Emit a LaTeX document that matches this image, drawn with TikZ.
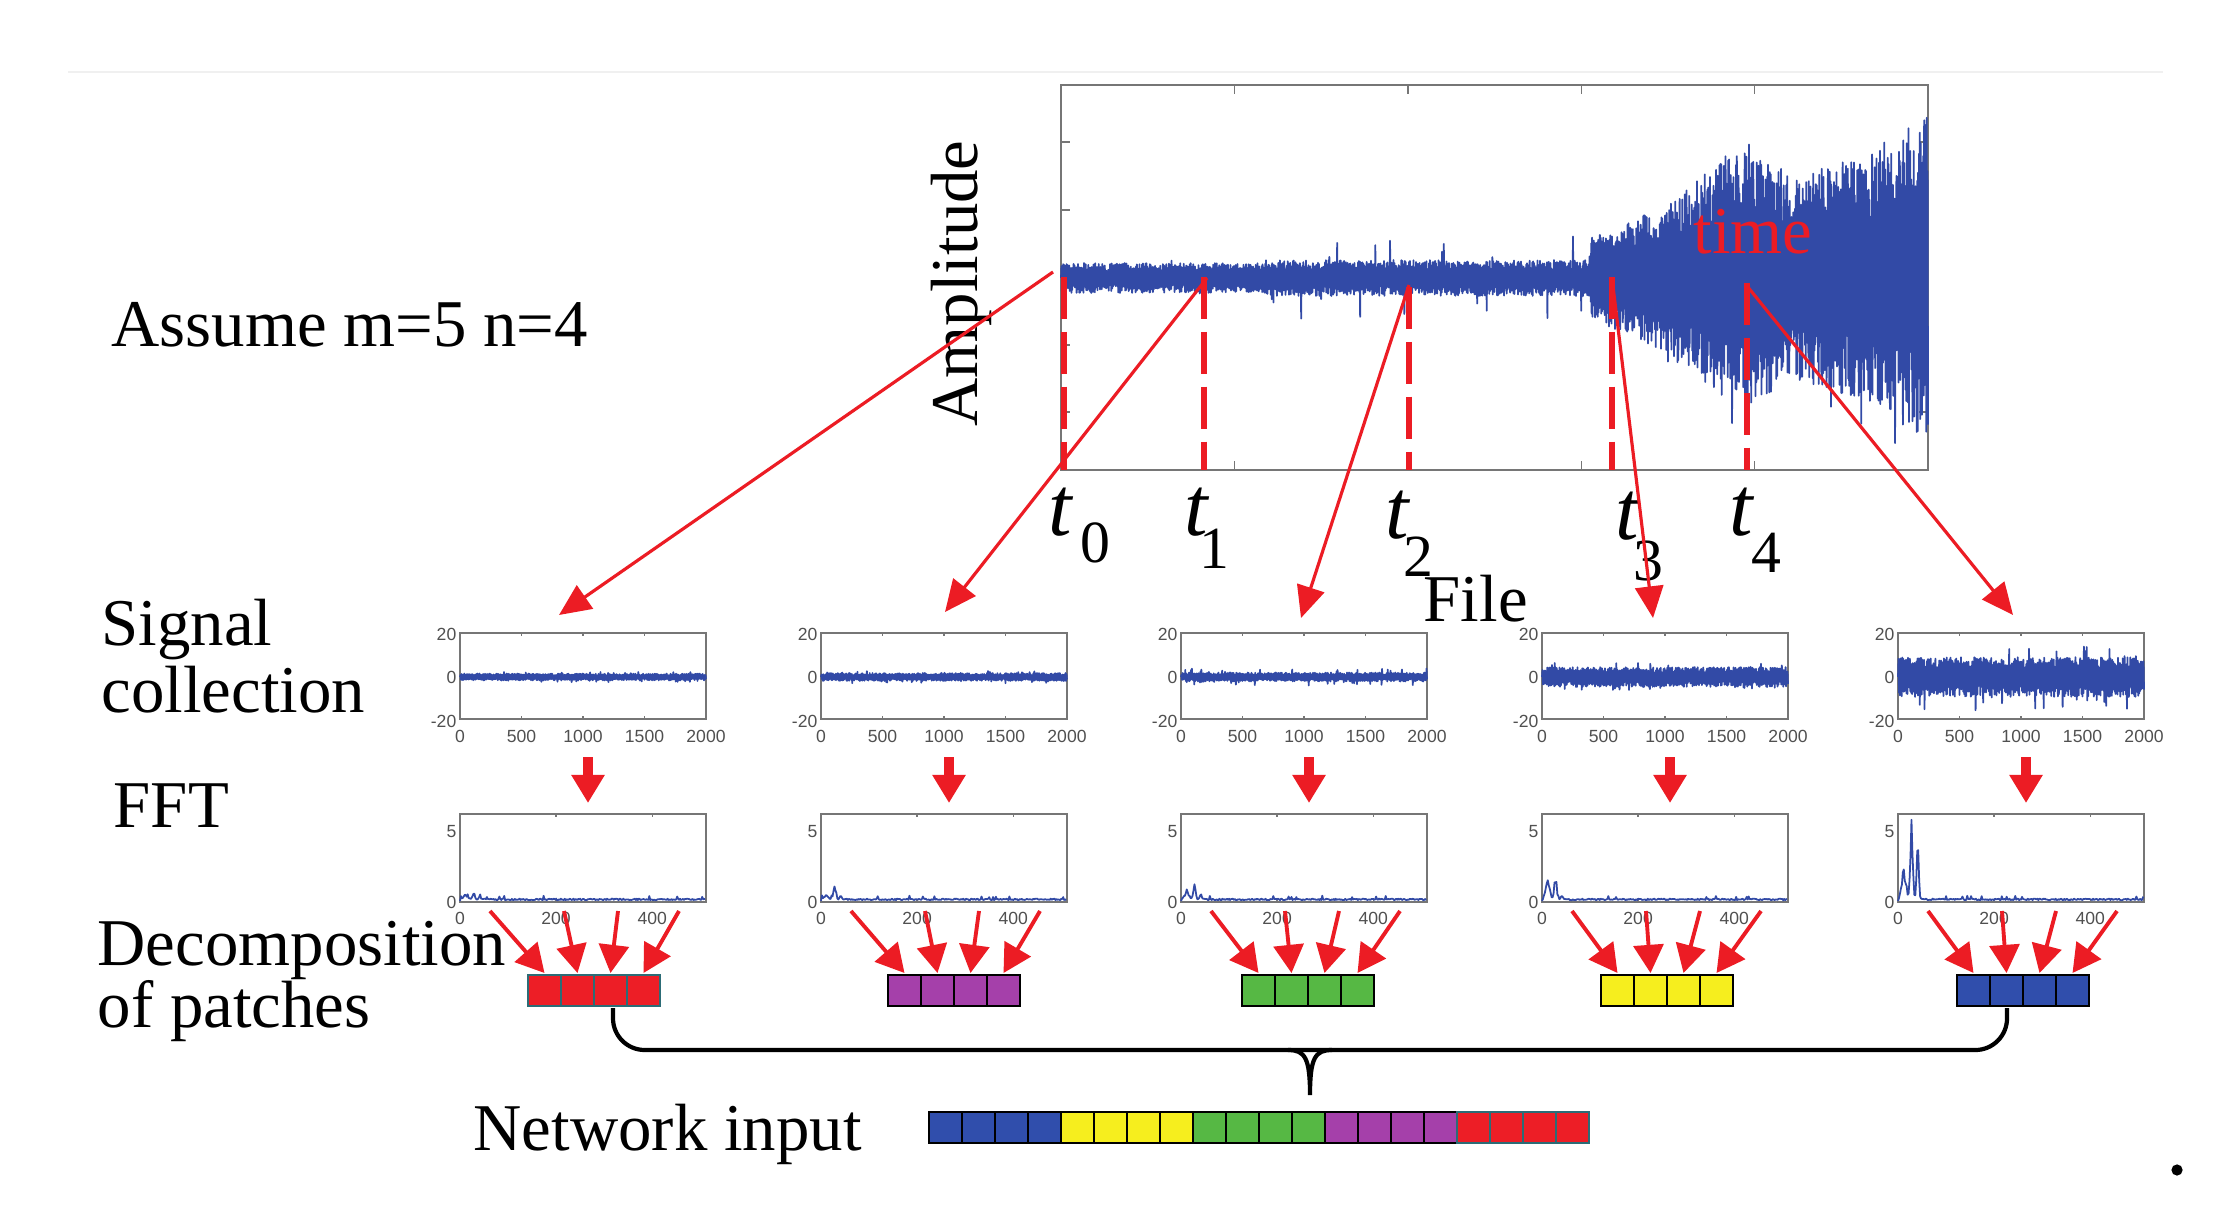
\documentclass[tikz,border=0pt]{standalone}
\usepackage{fontspec}
\setmainfont{Liberation Serif}
\newfontfamily\tickfont{Liberation Sans}
\usetikzlibrary{arrows.meta}

% colours picked from the figure
\definecolor{sigblue}{RGB}{50,74,166}
\definecolor{arrowred}{RGB}{236,28,36}
\definecolor{patchred}{RGB}{237,30,38}
\definecolor{patchpurple}{RGB}{165,64,170}
\definecolor{patchgreen}{RGB}{86,184,68}
\definecolor{patchyellow}{RGB}{246,238,30}
\definecolor{patchblue}{RGB}{48,78,172}
\definecolor{patchteal}{RGB}{44,108,118}
\definecolor{framegray}{RGB}{118,118,118}
\definecolor{tickgray}{RGB}{80,80,80}

\tikzset{
  textlbl/.style={font=\fontsize{19}{19}\selectfont, inner sep=0pt, anchor=base west},
  ticklbl/.style={font=\tickfont\fontsize{5}{5}\selectfont, text=tickgray, inner sep=0pt},
  plotframe/.style={draw=framegray, line width=0.55pt},
  plottick/.style={draw=framegray, line width=0.4pt},
  sigline/.style={draw=sigblue, line width=0.5pt, line join=round},
  feedarrow/.style={draw=arrowred, line width=0.9pt, -{Triangle[length=9pt,width=8pt]}},
  fftarrow/.style={draw=arrowred, line width=2.8pt, -{Triangle[length=8pt,width=9pt]}},
  patcharrow/.style={draw=arrowred, line width=1.1pt, -{Triangle[length=8pt,width=8.5pt]}},
  timemark/.style={draw=arrowred, line width=1.6pt, dash pattern=on 12pt off 3.6pt},
  patchcell/.style={line width=0.8pt},
  bracketline/.style={draw=black, line width=1.2pt},
}

\begin{document}
\begin{tikzpicture}[x=0.01cm, y=-0.01cm,
  declare function={
    envmain(\u)=(\u<0.235) ? 15 : ((\u<0.61) ? 18 : ((\u<0.70) ? 40+(\u-0.61)*390 :
      ((\u<0.78) ? 75+(\u-0.70)*700 : ((\u<0.85) ? 131-(\u-0.78)*400 :
      ((\u<0.93) ? 103+(\u-0.85)*300 : 127+(\u-0.93)*500)))));
    spkmain(\u)=((\u>0.235)*(\u<0.61)) ? 1.5 : 0.25;
    gss(\b,\c,\w)=exp(0-min(abs(\b-\c)/\w,6)*min(abs(\b-\c)/\w,6));
  }]

% canvas, pixel units of the scan
\path[use as bounding box, fill=white] (0,0) rectangle (2231,1228);
\draw[black!6, line width=0.6pt] (68,72) -- (2163,72);

% --- long recording ---
\draw[plotframe, line width=0.8pt] (1061,85) rectangle (1928,470);
\foreach \k in {1,...,4} {
  \draw[plottick] ({1061+\k*173.4},85) -- ++(0,9);
  \draw[plottick] ({1061+\k*173.4},470) -- ++(0,-9);
}
\foreach \ty in {142,210,278,345,412} {
  \draw[plottick] (1061,\ty) -- ++(9,0);
  \draw[plottick] (1928,\ty) -- ++(-9,0);
}
\pgfmathsetseed{2718}
\draw[sigline] (1061,278) \foreach \i in {1,...,1000} {
  -- ({1061+\i*0.867-0.433},{278-envmain(\i/1000)*(0.45+0.55*rnd)*(1+spkmain(\i/1000)*(rnd>0.975))})
  -- ({1061+\i*0.867},{278+envmain(\i/1000)*(0.45+0.55*rnd)*(1+spkmain(\i/1000)*(rnd>0.975))})
};

% cut times
\foreach \tx/\ty in {1064/277, 1204/277, 1409/287, 1612/277, 1747/283}
  \draw[timemark] (\tx,\ty) -- (\tx,470);
\foreach \nm/\tx/\tb/\sk/\sd/\sub in {t0/1048/535/2/7.7/0, t1/1184/535/-3/9.4/1,
    t2/1385/538/-2/11/2, t3/1615/540/-2/11.4/3, t4/1729/535/-1/10.8/4}
  \node[inner sep=0pt, anchor=base west] (\nm) at (\tx,\tb)
    {\fontsize{24}{24}\selectfont\itshape t\/\kern\sk pt\raisebox{-\sd pt}{\fontsize{17}{17}\selectfont\upshape \sub}};

% texts (multi-line ones sit on their last baseline)
\node[textlbl] (assume) at (111,347) {Assume m=5 n=4};
\node[textlbl, align=left] (siglbl) at (101,712) {Signal\\collection};
\node[textlbl] (fftlbl) at (113,827) {FFT};
\node[textlbl, align=left, font=\fontsize{19}{17.6}\selectfont] (declbl) at (97,1027) {Decomposition\\of patches};
\node[textlbl] (netlbl) at (473,1150) {Network input};
\node[textlbl, rotate=90] (amplbl) at (977,427) {Amplitude};
\node[textlbl] (filelbl) at (1423,621) {File};
\node[textlbl, text=arrowred] (timelbl) at (1693,254) {time};

% windows taken from the recording
\coordinate (src0) at (1053,272);
\coordinate (src1) at (1207,278);
\coordinate (src2) at (1409,285);
\coordinate (src3) at (1612,278);
\coordinate (src4) at (1747,286);
\coordinate (dst1) at (559,615);
\coordinate (dst2) at (945,612);
\coordinate (dst3) at (1301,618);
\coordinate (dst4) at (1653,618);
\coordinate (dst5) at (2013,615);
\foreach \from/\to in {src0/dst1, src1/dst2, src2/dst3, src3/dst4, src4/dst5}
  \draw[feedarrow] (\from) -- (\to);

% --- one column per window ---
\foreach \p/\px/\bx/\col/\bd/\amp/\spk/\fa/\fb/\fc in {
    1/460/528/patchred/patchteal/3.5/0.5/5/7/3,
    2/821/888/patchpurple/black/4/0.6/6/14/4,
    3/1181/1242/patchgreen/black/4.5/0.9/10/18/5,
    4/1542/1601/patchyellow/black/10/0.4/22/24/4,
    5/1898/1957/patchblue/black/20/0.7/35/85/55} {
  % signal window
  \draw[plotframe] (\px,633) rectangle ++(246,86);
  \foreach \k in {1,2,3} {
    \draw[plottick] ({\px+\k*61.5},633) -- ++(0,3);
    \draw[plottick] ({\px+\k*61.5},719) -- ++(0,-3);
  }
  \draw[sigline] (\px,677) \foreach \i in {1,...,260} {
    -- ({\px+\i*0.946-0.473},{677-\amp*(0.45+0.55*rnd)*(1+\spk*(rnd>0.93))})
    -- ({\px+\i*0.946},{677+\amp*(0.45+0.55*rnd)*(1+\spk*(rnd>0.93))})
  };
  \node[ticklbl, anchor=east] (sya\p) at ({\px-3},634) {20};
  \node[ticklbl, anchor=east] (syb\p) at ({\px-3},677) {0};
  \node[ticklbl, anchor=east] (syc\p) at ({\px-3},721) {-20};
  \foreach \k/\lab in {0/0,1/500,2/1000,3/1500,4/2000}
    \node[ticklbl] (sx\p\k) at ({\px+\k*61.5},736) {\lab};

  % spectrum window
  \draw[plotframe] (\px,814) rectangle ++(246,88);
  \foreach \k in {1,2} {
    \draw[plottick] ({\px+\k*96.1},814) -- ++(0,3);
    \draw[plottick] ({\px+\k*96.1},902) -- ++(0,-3);
  }
  \draw[sigline] (\px,901) \foreach \b in {2,4,...,510} {
    -- ({\px+\b*0.4805},{901-(0.8+1.6*rnd)-3*(rnd>0.95)-\fa*gss(\b,12,6)*(0.6+0.4*rnd)-\fb*gss(\b,28,3.5)*(0.7+0.3*rnd)-\fc*gss(\b,41,3)})
  };
  \node[ticklbl, anchor=east] (fya\p) at ({\px-3},832) {5};
  \node[ticklbl, anchor=east] (fyb\p) at ({\px-3},902) {0};
  \foreach \k/\lab in {0/0,1/200,2/400}
    \node[ticklbl] (fx\p\k) at ({\px+\k*96.1},918) {\lab};

  % FFT step
  \coordinate (sb\p) at ({\px+128},757);
  \coordinate (ft\p) at ({\px+128},803);
  \draw[fftarrow] (sb\p) -- (ft\p);

  % patches
  \foreach \c in {0,...,3}
    \draw[patchcell, fill=\col, draw=\bd] ({\bx+\c*33},975) rectangle ++(33,31);
  \foreach \n/\s in {1/30,2/104,3/158,4/219} {
    \coordinate (fq\p\n) at ({\px+\s},911);
    \coordinate (pc\p\n) at ({\bx+\n*33-16.5},973);
    \draw[patcharrow] (fq\p\n) -- (pc\p\n);
  }
}

% brace joining the patches
\coordinate (brL) at (613,1008);
\coordinate (brR) at (2007,1008);
\coordinate (brTip) at (1310,1095);
\draw[bracketline, rounded corners=9] (brL) -- (613,1050) -- (2007,1050) -- (brR);
\draw[bracketline] (1288,1050) .. controls (1305,1050) and (1310,1058) .. (brTip)
  .. controls (1310,1058) and (1315,1050) .. (1332,1050);

% network input vector
\foreach \g/\col/\bd in {0/patchblue/black, 1/patchyellow/black, 2/patchgreen/black,
    3/patchpurple/black, 4/patchred/patchteal}
  \foreach \c in {0,...,3}
    \draw[patchcell, fill=\col, draw=\bd] ({929+(\g*4+\c)*33},1112) rectangle ++(33,31);

\fill (2177,1170) circle (1.6pt);

\end{tikzpicture}
\end{document}
